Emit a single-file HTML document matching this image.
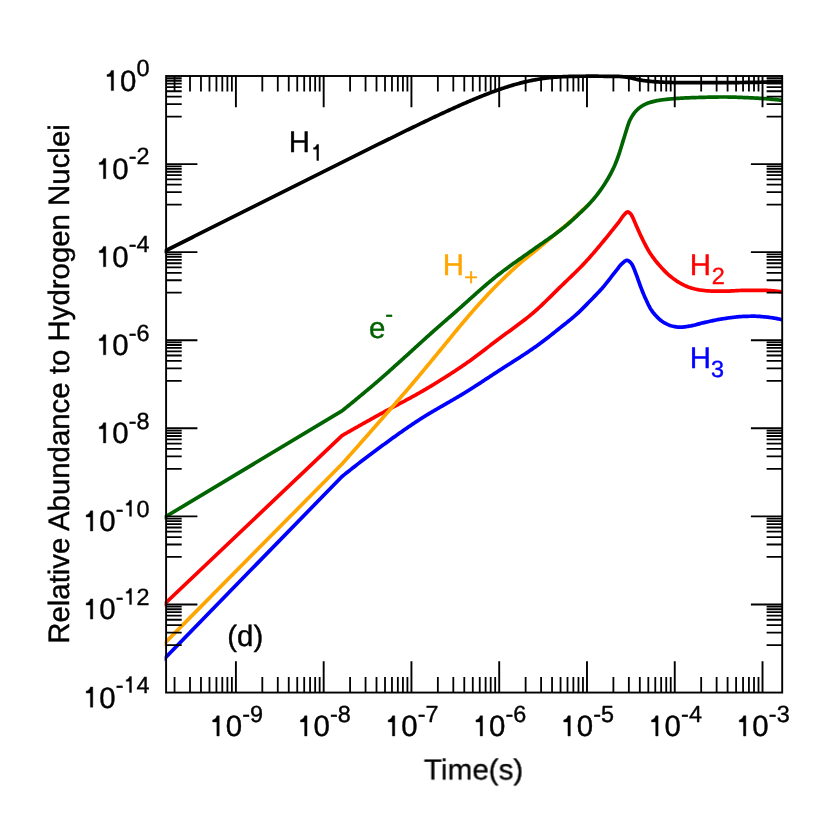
<!DOCTYPE html>
<html><head><meta charset="utf-8"><title>chart</title>
<style>html,body{margin:0;padding:0;background:#fff}body{width:830px;height:830px;overflow:hidden}</style>
</head><body>
<svg width="830" height="830" viewBox="0 0 830 830" style="display:block;will-change:transform">
<rect x="0" y="0" width="830" height="830" fill="#fff"/>
<defs><clipPath id="c"><rect x="164.6" y="73.0" width="617.6" height="619.56"/></clipPath></defs>
<g clip-path="url(#c)" fill="none" stroke-width="3.7" stroke-linejoin="round" stroke-linecap="butt">
<path d="M163.0,660.10 L342.0,476.50 L343.0,475.70 L344.0,474.90 L345.0,474.10 L346.0,473.31 L347.0,472.51 L348.0,471.72 L349.0,470.93 L350.0,470.14 L351.0,469.35 L352.0,468.57 L353.0,467.78 L354.0,467.00 L355.0,466.22 L356.0,465.44 L357.0,464.66 L358.0,463.89 L359.0,463.11 L360.0,462.34 L361.0,461.57 L362.0,460.80 L363.0,460.04 L364.0,459.27 L365.0,458.51 L366.0,457.75 L367.0,456.99 L368.0,456.24 L369.0,455.48 L370.0,454.73 L371.0,453.98 L372.0,453.23 L373.0,452.48 L374.0,451.73 L375.0,450.99 L376.0,450.25 L377.0,449.51 L378.0,448.77 L379.0,448.03 L380.0,447.30 L381.0,446.57 L382.0,445.84 L383.0,445.10 L384.0,444.37 L385.0,443.64 L386.0,442.91 L387.0,442.19 L388.0,441.46 L389.0,440.73 L390.0,440.01 L391.0,439.29 L392.0,438.56 L393.0,437.84 L394.0,437.13 L395.0,436.41 L396.0,435.69 L397.0,434.98 L398.0,434.27 L399.0,433.56 L400.0,432.85 L401.0,432.15 L402.0,431.45 L403.0,430.75 L404.0,430.05 L405.0,429.35 L406.0,428.66 L407.0,427.97 L408.0,427.29 L409.0,426.60 L410.0,425.92 L411.0,425.24 L412.0,424.57 L413.0,423.90 L414.0,423.23 L415.0,422.57 L416.0,421.91 L417.0,421.25 L418.0,420.60 L419.0,419.95 L420.0,419.30 L421.0,418.66 L422.0,418.02 L423.0,417.39 L424.0,416.77 L425.0,416.15 L426.0,415.53 L427.0,414.92 L428.0,414.31 L429.0,413.71 L430.0,413.10 L431.0,412.51 L432.0,411.91 L433.0,411.32 L434.0,410.73 L435.0,410.15 L436.0,409.56 L437.0,408.98 L438.0,408.40 L439.0,407.82 L440.0,407.24 L441.0,406.67 L442.0,406.09 L443.0,405.52 L444.0,404.94 L445.0,404.37 L446.0,403.80 L447.0,403.22 L448.0,402.65 L449.0,402.07 L450.0,401.50 L451.0,400.92 L452.0,400.34 L453.0,399.76 L454.0,399.18 L455.0,398.60 L456.0,398.02 L457.0,397.43 L458.0,396.84 L459.0,396.25 L460.0,395.65 L461.0,395.05 L462.0,394.45 L463.0,393.84 L464.0,393.23 L465.0,392.62 L466.0,392.00 L467.0,391.38 L468.0,390.75 L469.0,390.13 L470.0,389.50 L471.0,388.86 L472.0,388.23 L473.0,387.59 L474.0,386.95 L475.0,386.31 L476.0,385.67 L477.0,385.02 L478.0,384.37 L479.0,383.73 L480.0,383.08 L481.0,382.43 L482.0,381.78 L483.0,381.12 L484.0,380.47 L485.0,379.81 L486.0,379.16 L487.0,378.50 L488.0,377.85 L489.0,377.19 L490.0,376.54 L491.0,375.88 L492.0,375.23 L493.0,374.57 L494.0,373.91 L495.0,373.26 L496.0,372.61 L497.0,371.95 L498.0,371.30 L499.0,370.65 L500.0,370.00 L501.0,369.35 L502.0,368.71 L503.0,368.07 L504.0,367.43 L505.0,366.79 L506.0,366.15 L507.0,365.51 L508.0,364.87 L509.0,364.23 L510.0,363.60 L511.0,362.96 L512.0,362.32 L513.0,361.68 L514.0,361.04 L515.0,360.40 L516.0,359.76 L517.0,359.12 L518.0,358.48 L519.0,357.84 L520.0,357.19 L521.0,356.54 L522.0,355.89 L523.0,355.24 L524.0,354.58 L525.0,353.92 L526.0,353.26 L527.0,352.59 L528.0,351.93 L529.0,351.25 L530.0,350.58 L531.0,349.90 L532.0,349.21 L533.0,348.52 L534.0,347.83 L535.0,347.13 L536.0,346.42 L537.0,345.72 L538.0,345.00 L539.0,344.28 L540.0,343.55 L541.0,342.81 L542.0,342.06 L543.0,341.31 L544.0,340.55 L545.0,339.78 L546.0,339.01 L547.0,338.23 L548.0,337.45 L549.0,336.67 L550.0,335.88 L551.0,335.09 L552.0,334.29 L553.0,333.50 L554.0,332.70 L555.0,331.90 L556.0,331.10 L557.0,330.30 L558.0,329.50 L559.0,328.70 L560.0,327.91 L561.0,327.11 L562.0,326.32 L563.0,325.53 L564.0,324.73 L565.0,323.94 L566.0,323.14 L567.0,322.34 L568.0,321.53 L569.0,320.72 L570.0,319.90 L571.0,319.07 L572.0,318.24 L573.0,317.39 L574.0,316.54 L575.0,315.67 L576.0,314.79 L577.0,313.90 L578.0,313.00 L579.0,312.08 L580.0,311.13 L581.0,310.16 L582.0,309.18 L583.0,308.18 L584.0,307.17 L585.0,306.15 L586.0,305.13 L587.0,304.10 L588.0,303.06 L589.0,302.03 L590.0,301.00 L591.0,299.98 L592.0,298.95 L593.0,297.93 L594.0,296.91 L595.0,295.89 L596.0,294.86 L597.0,293.82 L598.0,292.77 L599.0,291.71 L600.0,290.63 L601.0,289.54 L602.0,288.42 L603.0,287.29 L604.0,286.12 L605.0,284.93 L606.0,283.69 L607.0,282.44 L608.0,281.16 L609.0,279.87 L610.0,278.56 L611.0,277.25 L612.0,275.94 L613.0,274.64 L614.0,273.35 L615.0,272.07 L616.0,270.82 L617.0,269.57 L618.0,268.27 L619.0,266.95 L620.0,265.69 L621.0,264.55 L622.0,263.60 L623.0,262.73 L624.0,261.86 L625.0,261.09 L626.0,260.54 L627.0,260.30 L628.0,260.50 L629.0,261.11 L630.0,261.99 L631.0,263.00 L632.0,264.38 L633.0,266.34 L634.0,268.70 L635.0,271.28 L636.0,273.89 L637.0,276.46 L638.0,279.30 L639.0,282.22 L640.0,285.00 L641.0,287.63 L642.0,290.21 L643.0,292.72 L644.0,295.13 L645.0,297.40 L646.0,299.60 L647.0,301.79 L648.0,303.92 L649.0,305.96 L650.0,307.84 L651.0,309.54 L652.0,311.00 L653.0,312.30 L654.0,313.55 L655.0,314.73 L656.0,315.86 L657.0,316.93 L658.0,317.93 L659.0,318.87 L660.0,319.75 L661.0,320.56 L662.0,321.31 L663.0,321.99 L664.0,322.60 L665.0,323.16 L666.0,323.70 L667.0,324.19 L668.0,324.65 L669.0,325.07 L670.0,325.44 L671.0,325.75 L672.0,326.00 L673.0,326.22 L674.0,326.44 L675.0,326.64 L676.0,326.82 L677.0,326.98 L678.0,327.10 L679.0,327.17 L680.0,327.20 L681.0,327.18 L682.0,327.13 L683.0,327.04 L684.0,326.93 L685.0,326.80 L686.0,326.65 L687.0,326.49 L688.0,326.33 L689.0,326.16 L690.0,326.00 L691.0,325.83 L692.0,325.63 L693.0,325.42 L694.0,325.18 L695.0,324.94 L696.0,324.68 L697.0,324.41 L698.0,324.14 L699.0,323.87 L700.0,323.60 L701.0,323.33 L702.0,323.07 L703.0,322.83 L704.0,322.60 L705.0,322.38 L706.0,322.16 L707.0,321.93 L708.0,321.71 L709.0,321.49 L710.0,321.27 L711.0,321.05 L712.0,320.83 L713.0,320.61 L714.0,320.40 L715.0,320.20 L716.0,319.99 L717.0,319.80 L718.0,319.60 L719.0,319.42 L720.0,319.24 L721.0,319.07 L722.0,318.90 L723.0,318.75 L724.0,318.60 L725.0,318.46 L726.0,318.31 L727.0,318.17 L728.0,318.03 L729.0,317.89 L730.0,317.75 L731.0,317.61 L732.0,317.48 L733.0,317.35 L734.0,317.22 L735.0,317.10 L736.0,316.99 L737.0,316.89 L738.0,316.79 L739.0,316.70 L740.0,316.62 L741.0,316.55 L742.0,316.49 L743.0,316.44 L744.0,316.40 L745.0,316.37 L746.0,316.34 L747.0,316.31 L748.0,316.28 L749.0,316.26 L750.0,316.24 L751.0,316.22 L752.0,316.21 L753.0,316.20 L754.0,316.20 L755.0,316.21 L756.0,316.24 L757.0,316.28 L758.0,316.33 L759.0,316.40 L760.0,316.47 L761.0,316.55 L762.0,316.63 L763.0,316.72 L764.0,316.80 L765.0,316.89 L766.0,316.99 L767.0,317.09 L768.0,317.21 L769.0,317.33 L770.0,317.47 L771.0,317.61 L772.0,317.76 L773.0,317.92 L774.0,318.08 L775.0,318.26 L776.0,318.44 L777.0,318.63 L778.0,318.82 L779.0,319.03 L780.0,319.24 L781.0,319.45 L782.0,319.67 L783.0,319.90" stroke="#0000ff"/>
<path d="M163.0,605.50 L342.0,435.60 L343.0,435.03 L344.0,434.45 L345.0,433.88 L346.0,433.31 L347.0,432.74 L348.0,432.17 L349.0,431.60 L350.0,431.03 L351.0,430.46 L352.0,429.89 L353.0,429.33 L354.0,428.76 L355.0,428.19 L356.0,427.63 L357.0,427.06 L358.0,426.49 L359.0,425.93 L360.0,425.37 L361.0,424.80 L362.0,424.24 L363.0,423.68 L364.0,423.12 L365.0,422.55 L366.0,421.99 L367.0,421.43 L368.0,420.87 L369.0,420.31 L370.0,419.76 L371.0,419.20 L372.0,418.64 L373.0,418.08 L374.0,417.53 L375.0,416.97 L376.0,416.42 L377.0,415.86 L378.0,415.31 L379.0,414.75 L380.0,414.20 L381.0,413.65 L382.0,413.10 L383.0,412.55 L384.0,412.01 L385.0,411.46 L386.0,410.92 L387.0,410.38 L388.0,409.84 L389.0,409.31 L390.0,408.77 L391.0,408.24 L392.0,407.70 L393.0,407.17 L394.0,406.63 L395.0,406.10 L396.0,405.57 L397.0,405.04 L398.0,404.50 L399.0,403.97 L400.0,403.44 L401.0,402.91 L402.0,402.37 L403.0,401.84 L404.0,401.30 L405.0,400.77 L406.0,400.23 L407.0,399.69 L408.0,399.15 L409.0,398.61 L410.0,398.06 L411.0,397.52 L412.0,396.97 L413.0,396.42 L414.0,395.87 L415.0,395.31 L416.0,394.76 L417.0,394.20 L418.0,393.63 L419.0,393.07 L420.0,392.50 L421.0,391.93 L422.0,391.35 L423.0,390.78 L424.0,390.19 L425.0,389.61 L426.0,389.03 L427.0,388.44 L428.0,387.84 L429.0,387.25 L430.0,386.65 L431.0,386.05 L432.0,385.45 L433.0,384.84 L434.0,384.23 L435.0,383.62 L436.0,383.00 L437.0,382.38 L438.0,381.76 L439.0,381.14 L440.0,380.52 L441.0,379.89 L442.0,379.27 L443.0,378.64 L444.0,378.01 L445.0,377.38 L446.0,376.75 L447.0,376.11 L448.0,375.47 L449.0,374.83 L450.0,374.19 L451.0,373.54 L452.0,372.90 L453.0,372.24 L454.0,371.59 L455.0,370.93 L456.0,370.28 L457.0,369.61 L458.0,368.95 L459.0,368.28 L460.0,367.61 L461.0,366.93 L462.0,366.25 L463.0,365.57 L464.0,364.88 L465.0,364.19 L466.0,363.50 L467.0,362.80 L468.0,362.10 L469.0,361.38 L470.0,360.67 L471.0,359.94 L472.0,359.22 L473.0,358.49 L474.0,357.75 L475.0,357.01 L476.0,356.26 L477.0,355.52 L478.0,354.76 L479.0,354.01 L480.0,353.25 L481.0,352.49 L482.0,351.73 L483.0,350.97 L484.0,350.20 L485.0,349.44 L486.0,348.67 L487.0,347.90 L488.0,347.13 L489.0,346.36 L490.0,345.60 L491.0,344.83 L492.0,344.06 L493.0,343.30 L494.0,342.53 L495.0,341.77 L496.0,341.01 L497.0,340.25 L498.0,339.50 L499.0,338.75 L500.0,338.00 L501.0,337.26 L502.0,336.52 L503.0,335.78 L504.0,335.05 L505.0,334.32 L506.0,333.59 L507.0,332.86 L508.0,332.13 L509.0,331.41 L510.0,330.68 L511.0,329.95 L512.0,329.23 L513.0,328.50 L514.0,327.77 L515.0,327.04 L516.0,326.30 L517.0,325.56 L518.0,324.82 L519.0,324.08 L520.0,323.33 L521.0,322.57 L522.0,321.81 L523.0,321.05 L524.0,320.28 L525.0,319.50 L526.0,318.72 L527.0,317.92 L528.0,317.13 L529.0,316.32 L530.0,315.50 L531.0,314.68 L532.0,313.84 L533.0,313.00 L534.0,312.14 L535.0,311.27 L536.0,310.39 L537.0,309.50 L538.0,308.59 L539.0,307.67 L540.0,306.74 L541.0,305.80 L542.0,304.86 L543.0,303.90 L544.0,302.94 L545.0,301.98 L546.0,301.00 L547.0,300.02 L548.0,299.04 L549.0,298.06 L550.0,297.07 L551.0,296.08 L552.0,295.09 L553.0,294.09 L554.0,293.10 L555.0,292.11 L556.0,291.12 L557.0,290.14 L558.0,289.15 L559.0,288.17 L560.0,287.20 L561.0,286.23 L562.0,285.26 L563.0,284.30 L564.0,283.34 L565.0,282.38 L566.0,281.42 L567.0,280.46 L568.0,279.50 L569.0,278.54 L570.0,277.58 L571.0,276.62 L572.0,275.65 L573.0,274.68 L574.0,273.70 L575.0,272.73 L576.0,271.74 L577.0,270.75 L578.0,269.75 L579.0,268.75 L580.0,267.74 L581.0,266.72 L582.0,265.69 L583.0,264.65 L584.0,263.60 L585.0,262.53 L586.0,261.46 L587.0,260.37 L588.0,259.27 L589.0,258.16 L590.0,257.04 L591.0,255.90 L592.0,254.75 L593.0,253.60 L594.0,252.43 L595.0,251.26 L596.0,250.08 L597.0,248.90 L598.0,247.71 L599.0,246.51 L600.0,245.31 L601.0,244.11 L602.0,242.91 L603.0,241.70 L604.0,240.50 L605.0,239.29 L606.0,238.08 L607.0,236.86 L608.0,235.64 L609.0,234.41 L610.0,233.18 L611.0,231.94 L612.0,230.69 L613.0,229.44 L614.0,228.18 L615.0,226.92 L616.0,225.64 L617.0,224.36 L618.0,223.08 L619.0,221.78 L620.0,220.46 L621.0,219.04 L622.0,217.57 L623.0,216.16 L624.0,214.92 L625.0,213.89 L626.0,212.86 L627.0,212.09 L628.0,211.93 L629.0,212.39 L630.0,213.25 L631.0,214.30 L632.0,215.91 L633.0,218.00 L634.0,220.22 L635.0,222.62 L636.0,225.00 L637.0,227.30 L638.0,229.60 L639.0,231.85 L640.0,234.00 L641.0,236.08 L642.0,238.15 L643.0,240.20 L644.0,242.21 L645.0,244.18 L646.0,246.09 L647.0,247.94 L648.0,249.72 L649.0,251.41 L650.0,253.00 L651.0,254.51 L652.0,255.97 L653.0,257.37 L654.0,258.71 L655.0,260.02 L656.0,261.28 L657.0,262.50 L658.0,263.70 L659.0,264.86 L660.0,266.00 L661.0,267.12 L662.0,268.22 L663.0,269.30 L664.0,270.36 L665.0,271.38 L666.0,272.38 L667.0,273.34 L668.0,274.27 L669.0,275.15 L670.0,276.00 L671.0,276.81 L672.0,277.60 L673.0,278.37 L674.0,279.12 L675.0,279.84 L676.0,280.53 L677.0,281.19 L678.0,281.82 L679.0,282.43 L680.0,283.00 L681.0,283.55 L682.0,284.09 L683.0,284.61 L684.0,285.12 L685.0,285.60 L686.0,286.06 L687.0,286.49 L688.0,286.90 L689.0,287.27 L690.0,287.60 L691.0,287.91 L692.0,288.21 L693.0,288.49 L694.0,288.76 L695.0,289.02 L696.0,289.25 L697.0,289.47 L698.0,289.67 L699.0,289.85 L700.0,290.00 L701.0,290.14 L702.0,290.28 L703.0,290.41 L704.0,290.53 L705.0,290.64 L706.0,290.75 L707.0,290.83 L708.0,290.91 L709.0,290.96 L710.0,291.00 L711.0,291.03 L712.0,291.05 L713.0,291.07 L714.0,291.09 L715.0,291.11 L716.0,291.13 L717.0,291.15 L718.0,291.16 L719.0,291.17 L720.0,291.18 L721.0,291.19 L722.0,291.20 L723.0,291.20 L724.0,291.20 L725.0,291.19 L726.0,291.18 L727.0,291.15 L728.0,291.12 L729.0,291.07 L730.0,291.03 L731.0,290.97 L732.0,290.92 L733.0,290.86 L734.0,290.80 L735.0,290.74 L736.0,290.68 L737.0,290.63 L738.0,290.57 L739.0,290.52 L740.0,290.48 L741.0,290.45 L742.0,290.42 L743.0,290.41 L744.0,290.40 L745.0,290.40 L746.0,290.40 L747.0,290.40 L748.0,290.40 L749.0,290.40 L750.0,290.40 L751.0,290.40 L752.0,290.40 L753.0,290.40 L754.0,290.40 L755.0,290.40 L756.0,290.40 L757.0,290.40 L758.0,290.40 L759.0,290.40 L760.0,290.40 L761.0,290.40 L762.0,290.40 L763.0,290.40 L764.0,290.40 L765.0,290.41 L766.0,290.43 L767.0,290.46 L768.0,290.50 L769.0,290.55 L770.0,290.62 L771.0,290.69 L772.0,290.77 L773.0,290.86 L774.0,290.95 L775.0,291.05 L776.0,291.16 L777.0,291.27 L778.0,291.39 L779.0,291.50 L780.0,291.63 L781.0,291.75 L782.0,291.87 L783.0,292.00" stroke="#ff0000"/>
<path d="M163.0,645.00 L342.0,464.00 L343.0,462.88 L344.0,461.76 L345.0,460.63 L346.0,459.51 L347.0,458.39 L348.0,457.26 L349.0,456.14 L350.0,455.01 L351.0,453.89 L352.0,452.76 L353.0,451.63 L354.0,450.51 L355.0,449.38 L356.0,448.25 L357.0,447.12 L358.0,445.99 L359.0,444.86 L360.0,443.73 L361.0,442.60 L362.0,441.47 L363.0,440.33 L364.0,439.20 L365.0,438.07 L366.0,436.93 L367.0,435.80 L368.0,434.66 L369.0,433.53 L370.0,432.39 L371.0,431.25 L372.0,430.12 L373.0,428.98 L374.0,427.84 L375.0,426.70 L376.0,425.56 L377.0,424.42 L378.0,423.28 L379.0,422.14 L380.0,421.00 L381.0,419.86 L382.0,418.72 L383.0,417.58 L384.0,416.44 L385.0,415.29 L386.0,414.15 L387.0,413.01 L388.0,411.87 L389.0,410.73 L390.0,409.59 L391.0,408.45 L392.0,407.30 L393.0,406.16 L394.0,405.01 L395.0,403.87 L396.0,402.72 L397.0,401.58 L398.0,400.43 L399.0,399.28 L400.0,398.13 L401.0,396.97 L402.0,395.82 L403.0,394.66 L404.0,393.51 L405.0,392.35 L406.0,391.19 L407.0,390.02 L408.0,388.86 L409.0,387.69 L410.0,386.52 L411.0,385.35 L412.0,384.18 L413.0,383.00 L414.0,381.82 L415.0,380.64 L416.0,379.45 L417.0,378.26 L418.0,377.07 L419.0,375.88 L420.0,374.68 L421.0,373.48 L422.0,372.28 L423.0,371.07 L424.0,369.87 L425.0,368.66 L426.0,367.45 L427.0,366.25 L428.0,365.04 L429.0,363.82 L430.0,362.61 L431.0,361.40 L432.0,360.19 L433.0,358.98 L434.0,357.76 L435.0,356.55 L436.0,355.34 L437.0,354.13 L438.0,352.92 L439.0,351.71 L440.0,350.50 L441.0,349.29 L442.0,348.08 L443.0,346.86 L444.0,345.64 L445.0,344.42 L446.0,343.20 L447.0,341.98 L448.0,340.76 L449.0,339.53 L450.0,338.31 L451.0,337.08 L452.0,335.86 L453.0,334.64 L454.0,333.42 L455.0,332.20 L456.0,330.98 L457.0,329.76 L458.0,328.55 L459.0,327.34 L460.0,326.14 L461.0,324.93 L462.0,323.74 L463.0,322.54 L464.0,321.36 L465.0,320.18 L466.0,319.00 L467.0,317.83 L468.0,316.66 L469.0,315.49 L470.0,314.33 L471.0,313.17 L472.0,312.02 L473.0,310.87 L474.0,309.73 L475.0,308.59 L476.0,307.46 L477.0,306.33 L478.0,305.21 L479.0,304.10 L480.0,303.00 L481.0,301.90 L482.0,300.81 L483.0,299.72 L484.0,298.63 L485.0,297.55 L486.0,296.47 L487.0,295.40 L488.0,294.33 L489.0,293.27 L490.0,292.21 L491.0,291.16 L492.0,290.12 L493.0,289.08 L494.0,288.05 L495.0,287.03 L496.0,286.01 L497.0,285.00 L498.0,284.00 L499.0,283.01 L500.0,282.01 L501.0,281.03 L502.0,280.04 L503.0,279.07 L504.0,278.09 L505.0,277.12 L506.0,276.16 L507.0,275.20 L508.0,274.25 L509.0,273.30 L510.0,272.36 L511.0,271.42 L512.0,270.49 L513.0,269.57 L514.0,268.65 L515.0,267.74 L516.0,266.84 L517.0,265.94 L518.0,265.05 L519.0,264.17 L520.0,263.30 L521.0,262.44 L522.0,261.59 L523.0,260.75 L524.0,259.93 L525.0,259.11 L526.0,258.30 L527.0,257.50 L528.0,256.70 L529.0,255.91 L530.0,255.12 L531.0,254.33 L532.0,253.54 L533.0,252.75 L534.0,251.95 L535.0,251.15 L536.0,250.34 L537.0,249.52 L538.0,248.70 L539.0,247.87 L540.0,247.03 L541.0,246.19 L542.0,245.34 L543.0,244.49 L544.0,243.64 L545.0,242.78 L546.0,241.93 L547.0,241.07 L548.0,240.21 L549.0,239.35 L550.0,238.49 L551.0,237.63 L552.0,236.78 L553.0,235.92 L554.0,235.07 L555.0,234.22 L556.0,233.38 L557.0,232.54 L558.0,231.70 L559.0,230.87 L560.0,230.06 L561.0,229.25 L562.0,228.44 L563.0,227.64 L564.0,226.83 L565.0,226.02 L566.0,225.19 L567.0,224.35 L568.0,223.50 L569.0,222.63 L570.0,221.74 L571.0,220.84 L572.0,219.94 L573.0,219.02 L574.0,218.10 L575.0,217.17 L576.0,216.23 L577.0,215.30 L578.0,214.36 L579.0,213.43 L580.0,212.50 L581.0,211.57 L582.0,210.64 L583.0,209.70 L584.0,208.77 L585.0,207.83 L586.0,206.89 L587.0,205.94 L588.0,205.00" stroke="#ffa500"/>
<path d="M163.0,518.30 L342.0,410.90 L343.0,410.10 L344.0,409.29 L345.0,408.48 L346.0,407.68 L347.0,406.87 L348.0,406.05 L349.0,405.24 L350.0,404.43 L351.0,403.61 L352.0,402.79 L353.0,401.97 L354.0,401.15 L355.0,400.33 L356.0,399.51 L357.0,398.68 L358.0,397.86 L359.0,397.03 L360.0,396.20 L361.0,395.37 L362.0,394.54 L363.0,393.71 L364.0,392.87 L365.0,392.04 L366.0,391.20 L367.0,390.36 L368.0,389.52 L369.0,388.68 L370.0,387.84 L371.0,387.00 L372.0,386.15 L373.0,385.30 L374.0,384.45 L375.0,383.60 L376.0,382.75 L377.0,381.89 L378.0,381.03 L379.0,380.17 L380.0,379.30 L381.0,378.43 L382.0,377.56 L383.0,376.68 L384.0,375.80 L385.0,374.92 L386.0,374.04 L387.0,373.15 L388.0,372.26 L389.0,371.37 L390.0,370.48 L391.0,369.58 L392.0,368.69 L393.0,367.79 L394.0,366.89 L395.0,365.99 L396.0,365.09 L397.0,364.19 L398.0,363.30 L399.0,362.40 L400.0,361.50 L401.0,360.60 L402.0,359.70 L403.0,358.80 L404.0,357.89 L405.0,356.99 L406.0,356.08 L407.0,355.17 L408.0,354.26 L409.0,353.35 L410.0,352.44 L411.0,351.53 L412.0,350.62 L413.0,349.71 L414.0,348.79 L415.0,347.88 L416.0,346.97 L417.0,346.05 L418.0,345.14 L419.0,344.23 L420.0,343.32 L421.0,342.41 L422.0,341.50 L423.0,340.59 L424.0,339.69 L425.0,338.78 L426.0,337.88 L427.0,336.98 L428.0,336.08 L429.0,335.18 L430.0,334.28 L431.0,333.39 L432.0,332.50 L433.0,331.61 L434.0,330.73 L435.0,329.84 L436.0,328.96 L437.0,328.08 L438.0,327.21 L439.0,326.33 L440.0,325.45 L441.0,324.58 L442.0,323.71 L443.0,322.84 L444.0,321.97 L445.0,321.10 L446.0,320.23 L447.0,319.36 L448.0,318.48 L449.0,317.61 L450.0,316.74 L451.0,315.87 L452.0,315.00 L453.0,314.13 L454.0,313.25 L455.0,312.37 L456.0,311.49 L457.0,310.60 L458.0,309.71 L459.0,308.82 L460.0,307.93 L461.0,307.04 L462.0,306.14 L463.0,305.25 L464.0,304.35 L465.0,303.46 L466.0,302.56 L467.0,301.66 L468.0,300.76 L469.0,299.87 L470.0,298.97 L471.0,298.07 L472.0,297.18 L473.0,296.29 L474.0,295.39 L475.0,294.50 L476.0,293.61 L477.0,292.73 L478.0,291.84 L479.0,290.96 L480.0,290.08 L481.0,289.21 L482.0,288.33 L483.0,287.46 L484.0,286.60 L485.0,285.74 L486.0,284.88 L487.0,284.03 L488.0,283.18 L489.0,282.34 L490.0,281.50 L491.0,280.66 L492.0,279.84 L493.0,279.01 L494.0,278.20 L495.0,277.39 L496.0,276.59 L497.0,275.79 L498.0,275.00 L499.0,274.22 L500.0,273.44 L501.0,272.67 L502.0,271.91 L503.0,271.15 L504.0,270.39 L505.0,269.65 L506.0,268.90 L507.0,268.16 L508.0,267.43 L509.0,266.70 L510.0,265.97 L511.0,265.25 L512.0,264.53 L513.0,263.81 L514.0,263.10 L515.0,262.39 L516.0,261.68 L517.0,260.97 L518.0,260.27 L519.0,259.56 L520.0,258.86 L521.0,258.16 L522.0,257.46 L523.0,256.76 L524.0,256.06 L525.0,255.35 L526.0,254.65 L527.0,253.95 L528.0,253.25 L529.0,252.55 L530.0,251.84 L531.0,251.13 L532.0,250.42 L533.0,249.71 L534.0,249.00 L535.0,248.29 L536.0,247.58 L537.0,246.88 L538.0,246.18 L539.0,245.48 L540.0,244.78 L541.0,244.09 L542.0,243.40 L543.0,242.71 L544.0,242.01 L545.0,241.32 L546.0,240.63 L547.0,239.93 L548.0,239.24 L549.0,238.54 L550.0,237.83 L551.0,237.12 L552.0,236.41 L553.0,235.69 L554.0,234.97 L555.0,234.24 L556.0,233.50 L557.0,232.75 L558.0,232.00 L559.0,231.24 L560.0,230.47 L561.0,229.70 L562.0,228.91 L563.0,228.12 L564.0,227.32 L565.0,226.50 L566.0,225.68 L567.0,224.85 L568.0,224.00 L569.0,223.14 L570.0,222.26 L571.0,221.38 L572.0,220.47 L573.0,219.56 L574.0,218.64 L575.0,217.71 L576.0,216.78 L577.0,215.84 L578.0,214.89 L579.0,213.95 L580.0,213.00 L581.0,212.06 L582.0,211.11 L583.0,210.17 L584.0,209.21 L585.0,208.24 L586.0,207.26 L587.0,206.24 L588.0,205.20 L589.0,204.13 L590.0,203.05 L591.0,201.94 L592.0,200.82 L593.0,199.67 L594.0,198.49 L595.0,197.29 L596.0,196.06 L597.0,194.80 L598.0,193.50 L599.0,192.17 L600.0,190.80 L601.0,189.40 L602.0,187.96 L603.0,186.48 L604.0,184.97 L605.0,183.41 L606.0,181.82 L607.0,180.18 L608.0,178.50 L609.0,176.77 L610.0,174.98 L611.0,173.12 L612.0,171.17 L613.0,169.14 L614.0,167.00 L615.0,164.73 L616.0,162.29 L617.0,159.71 L618.0,157.00 L619.0,154.10 L620.0,150.98 L621.0,147.73 L622.0,144.43 L623.0,141.16 L624.0,138.00 L625.0,134.80 L626.0,131.48 L627.0,128.19 L628.0,125.08 L629.0,122.29 L630.0,120.00 L631.0,118.09 L632.0,116.37 L633.0,114.80 L634.0,113.40 L635.0,112.13 L636.0,111.00 L637.0,109.97 L638.0,109.01 L639.0,108.14 L640.0,107.35 L641.0,106.63 L642.0,106.00 L643.0,105.42 L644.0,104.88 L645.0,104.37 L646.0,103.89 L647.0,103.46 L648.0,103.06 L649.0,102.71 L650.0,102.40 L651.0,102.12 L652.0,101.85 L653.0,101.59 L654.0,101.35 L655.0,101.11 L656.0,100.89 L657.0,100.68 L658.0,100.49 L659.0,100.31 L660.0,100.14 L661.0,99.98 L662.0,99.84 L663.0,99.71 L664.0,99.60 L665.0,99.49 L666.0,99.39 L667.0,99.29 L668.0,99.20 L669.0,99.10 L670.0,99.01 L671.0,98.92 L672.0,98.84 L673.0,98.76 L674.0,98.68 L675.0,98.60 L676.0,98.52 L677.0,98.45 L678.0,98.38 L679.0,98.32 L680.0,98.25 L681.0,98.19 L682.0,98.13 L683.0,98.07 L684.0,98.02 L685.0,97.97 L686.0,97.92 L687.0,97.87 L688.0,97.82 L689.0,97.78 L690.0,97.74 L691.0,97.70 L692.0,97.67 L693.0,97.63 L694.0,97.60 L695.0,97.57 L696.0,97.54 L697.0,97.51 L698.0,97.48 L699.0,97.45 L700.0,97.42 L701.0,97.39 L702.0,97.36 L703.0,97.33 L704.0,97.31 L705.0,97.28 L706.0,97.26 L707.0,97.23 L708.0,97.21 L709.0,97.18 L710.0,97.16 L711.0,97.14 L712.0,97.12 L713.0,97.10 L714.0,97.09 L715.0,97.07 L716.0,97.06 L717.0,97.04 L718.0,97.03 L719.0,97.02 L720.0,97.01 L721.0,97.01 L722.0,97.00 L723.0,97.00 L724.0,97.00 L725.0,97.00 L726.0,97.01 L727.0,97.02 L728.0,97.03 L729.0,97.04 L730.0,97.06 L731.0,97.08 L732.0,97.10 L733.0,97.13 L734.0,97.15 L735.0,97.18 L736.0,97.21 L737.0,97.25 L738.0,97.28 L739.0,97.32 L740.0,97.36 L741.0,97.40 L742.0,97.44 L743.0,97.49 L744.0,97.53 L745.0,97.57 L746.0,97.62 L747.0,97.67 L748.0,97.71 L749.0,97.76 L750.0,97.81 L751.0,97.86 L752.0,97.90 L753.0,97.95 L754.0,98.00 L755.0,98.05 L756.0,98.10 L757.0,98.16 L758.0,98.22 L759.0,98.28 L760.0,98.34 L761.0,98.41 L762.0,98.48 L763.0,98.55 L764.0,98.62 L765.0,98.70 L766.0,98.78 L767.0,98.86 L768.0,98.94 L769.0,99.03 L770.0,99.12 L771.0,99.20 L772.0,99.30 L773.0,99.39 L774.0,99.48 L775.0,99.58 L776.0,99.68 L777.0,99.78 L778.0,99.88 L779.0,99.98 L780.0,100.08 L781.0,100.19 L782.0,100.29 L783.0,100.40" stroke="#006400"/>
<path d="M163.0,252.03 L164.0,251.53 L165.0,251.03 L166.0,250.53 L167.0,250.02 L168.0,249.52 L169.0,249.02 L170.0,248.52 L171.0,248.02 L172.0,247.51 L173.0,247.01 L174.0,246.51 L175.0,246.01 L176.0,245.51 L177.0,245.01 L178.0,244.50 L179.0,244.00 L180.0,243.50 L181.0,243.00 L182.0,242.50 L183.0,241.99 L184.0,241.49 L185.0,240.99 L186.0,240.49 L187.0,239.99 L188.0,239.48 L189.0,238.98 L190.0,238.48 L191.0,237.98 L192.0,237.48 L193.0,236.98 L194.0,236.47 L195.0,235.97 L196.0,235.47 L197.0,234.97 L198.0,234.47 L199.0,233.97 L200.0,233.46 L201.0,232.96 L202.0,232.46 L203.0,231.96 L204.0,231.46 L205.0,230.95 L206.0,230.45 L207.0,229.95 L208.0,229.45 L209.0,228.95 L210.0,228.45 L211.0,227.95 L212.0,227.44 L213.0,226.94 L214.0,226.44 L215.0,225.94 L216.0,225.44 L217.0,224.94 L218.0,224.43 L219.0,223.93 L220.0,223.43 L221.0,222.93 L222.0,222.43 L223.0,221.93 L224.0,221.42 L225.0,220.92 L226.0,220.42 L227.0,219.92 L228.0,219.42 L229.0,218.92 L230.0,218.42 L231.0,217.91 L232.0,217.41 L233.0,216.91 L234.0,216.41 L235.0,215.91 L236.0,215.41 L237.0,214.91 L238.0,214.40 L239.0,213.90 L240.0,213.40 L241.0,212.90 L242.0,212.40 L243.0,211.90 L244.0,211.40 L245.0,210.90 L246.0,210.39 L247.0,209.89 L248.0,209.39 L249.0,208.89 L250.0,208.39 L251.0,207.89 L252.0,207.38 L253.0,206.88 L254.0,206.38 L255.0,205.88 L256.0,205.38 L257.0,204.88 L258.0,204.37 L259.0,203.87 L260.0,203.37 L261.0,202.87 L262.0,202.37 L263.0,201.86 L264.0,201.36 L265.0,200.86 L266.0,200.36 L267.0,199.86 L268.0,199.35 L269.0,198.85 L270.0,198.35 L271.0,197.85 L272.0,197.35 L273.0,196.84 L274.0,196.34 L275.0,195.84 L276.0,195.34 L277.0,194.84 L278.0,194.33 L279.0,193.83 L280.0,193.33 L281.0,192.83 L282.0,192.33 L283.0,191.83 L284.0,191.32 L285.0,190.82 L286.0,190.32 L287.0,189.82 L288.0,189.32 L289.0,188.82 L290.0,188.31 L291.0,187.81 L292.0,187.31 L293.0,186.81 L294.0,186.31 L295.0,185.81 L296.0,185.31 L297.0,184.80 L298.0,184.30 L299.0,183.80 L300.0,183.30 L301.0,182.80 L302.0,182.30 L303.0,181.80 L304.0,181.30 L305.0,180.80 L306.0,180.30 L307.0,179.80 L308.0,179.30 L309.0,178.80 L310.0,178.30 L311.0,177.80 L312.0,177.30 L313.0,176.80 L314.0,176.30 L315.0,175.80 L316.0,175.30 L317.0,174.80 L318.0,174.30 L319.0,173.80 L320.0,173.30 L321.0,172.80 L322.0,172.30 L323.0,171.80 L324.0,171.31 L325.0,170.81 L326.0,170.31 L327.0,169.81 L328.0,169.31 L329.0,168.81 L330.0,168.32 L331.0,167.82 L332.0,167.32 L333.0,166.82 L334.0,166.32 L335.0,165.83 L336.0,165.33 L337.0,164.83 L338.0,164.33 L339.0,163.84 L340.0,163.34 L341.0,162.84 L342.0,162.34 L343.0,161.84 L344.0,161.35 L345.0,160.85 L346.0,160.35 L347.0,159.85 L348.0,159.35 L349.0,158.86 L350.0,158.36 L351.0,157.86 L352.0,157.36 L353.0,156.87 L354.0,156.37 L355.0,155.87 L356.0,155.37 L357.0,154.88 L358.0,154.38 L359.0,153.88 L360.0,153.38 L361.0,152.89 L362.0,152.39 L363.0,151.89 L364.0,151.40 L365.0,150.90 L366.0,150.40 L367.0,149.91 L368.0,149.41 L369.0,148.92 L370.0,148.42 L371.0,147.92 L372.0,147.43 L373.0,146.93 L374.0,146.44 L375.0,145.94 L376.0,145.45 L377.0,144.95 L378.0,144.46 L379.0,143.96 L380.0,143.47 L381.0,142.97 L382.0,142.48 L383.0,141.99 L384.0,141.49 L385.0,141.00 L386.0,140.50 L387.0,140.01 L388.0,139.52 L389.0,139.03 L390.0,138.53 L391.0,138.04 L392.0,137.55 L393.0,137.06 L394.0,136.56 L395.0,136.07 L396.0,135.58 L397.0,135.09 L398.0,134.60 L399.0,134.11 L400.0,133.62 L401.0,133.13 L402.0,132.64 L403.0,132.15 L404.0,131.66 L405.0,131.17 L406.0,130.68 L407.0,130.19 L408.0,129.71 L409.0,129.22 L410.0,128.73 L411.0,128.24 L412.0,127.76 L413.0,127.27 L414.0,126.79 L415.0,126.30 L416.0,125.82 L417.0,125.34 L418.0,124.86 L419.0,124.38 L420.0,123.90 L421.0,123.42 L422.0,122.94 L423.0,122.46 L424.0,121.98 L425.0,121.50 L426.0,121.02 L427.0,120.55 L428.0,120.07 L429.0,119.60 L430.0,119.12 L431.0,118.65 L432.0,118.18 L433.0,117.70 L434.0,117.23 L435.0,116.76 L436.0,116.29 L437.0,115.82 L438.0,115.35 L439.0,114.89 L440.0,114.42 L441.0,113.95 L442.0,113.49 L443.0,113.02 L444.0,112.56 L445.0,112.10 L446.0,111.64 L447.0,111.18 L448.0,110.72 L449.0,110.26 L450.0,109.81 L451.0,109.35 L452.0,108.90 L453.0,108.45 L454.0,107.99 L455.0,107.54 L456.0,107.10 L457.0,106.65 L458.0,106.20 L459.0,105.76 L460.0,105.31 L461.0,104.87 L462.0,104.43 L463.0,103.99 L464.0,103.56 L465.0,103.12 L466.0,102.69 L467.0,102.25 L468.0,101.82 L469.0,101.40 L470.0,100.97 L471.0,100.54 L472.0,100.12 L473.0,99.70 L474.0,99.28 L475.0,98.86 L476.0,98.45 L477.0,98.04 L478.0,97.63 L479.0,97.22 L480.0,96.81 L481.0,96.41 L482.0,96.01 L483.0,95.61 L484.0,95.21 L485.0,94.82 L486.0,94.43 L487.0,94.04 L488.0,93.66 L489.0,93.27 L490.0,92.89 L491.0,92.52 L492.0,92.14 L493.0,91.77 L494.0,91.41 L495.0,91.04 L496.0,90.68 L497.0,90.32 L498.0,89.97 L499.0,89.62 L500.0,89.27 L501.0,88.92 L502.0,88.58 L503.0,88.25 L504.0,87.91 L505.0,87.59 L506.0,87.26 L507.0,86.94 L508.0,86.62 L509.0,86.31 L510.0,86.00 L511.0,85.69 L512.0,85.39 L513.0,85.10 L514.0,84.81 L515.0,84.52 L516.0,84.24 L517.0,83.96 L518.0,83.69 L519.0,83.42 L520.0,83.15 L521.0,82.89 L522.0,82.64 L523.0,82.39 L524.0,82.15 L525.0,81.91 L526.0,81.67 L527.0,81.44 L528.0,81.22 L529.0,81.00 L530.0,80.79 L531.0,80.58 L532.0,80.38 L533.0,80.18 L534.0,79.99 L535.0,79.81 L536.0,79.63 L537.0,79.45 L538.0,79.28 L539.0,79.12 L540.0,78.96 L541.0,78.80 L542.0,78.66 L543.0,78.51 L544.0,78.37 L545.0,78.24 L546.0,78.12 L547.0,78.00 L548.0,77.88 L549.0,77.77 L550.0,77.66 L551.0,77.56 L552.0,77.46 L553.0,77.37 L554.0,77.28 L555.0,77.20 L556.0,77.12 L557.0,77.05 L558.0,76.98 L559.0,76.92 L560.0,76.85 L561.0,76.80 L562.0,76.74 L563.0,76.69 L564.0,76.65 L565.0,76.60 L566.0,76.56 L567.0,76.53 L568.0,76.49 L569.0,76.46 L570.0,76.43 L571.0,76.41 L572.0,76.38 L573.0,76.36 L574.0,76.34 L575.0,76.33 L576.0,76.31 L577.0,76.30 L578.0,76.28 L579.0,76.27 L580.0,76.26 L581.0,76.25 L582.0,76.25 L583.0,76.24 L584.0,76.23 L585.0,76.23 L586.0,76.22 L587.0,76.22 L588.0,76.22 L589.0,76.21 L590.0,76.21 L591.0,76.21 L592.0,76.21 L593.0,76.21 L594.0,76.20 L595.0,76.21 L596.0,76.21 L597.0,76.22 L598.0,76.22 L599.0,76.23 L600.0,76.24 L601.0,76.25 L602.0,76.26 L603.0,76.27 L604.0,76.28 L605.0,76.29 L606.0,76.30 L607.0,76.31 L608.0,76.31 L609.0,76.32 L610.0,76.33 L611.0,76.33 L612.0,76.34 L613.0,76.34 L614.0,76.35 L615.0,76.36 L616.0,76.37 L617.0,76.38 L618.0,76.40 L619.0,76.43 L620.0,76.49 L621.0,76.57 L622.0,76.66 L623.0,76.77 L624.0,76.89 L625.0,77.00 L626.0,77.13 L627.0,77.28 L628.0,77.44 L629.0,77.62 L630.0,77.80 L631.0,77.99 L632.0,78.21 L633.0,78.44 L634.0,78.68 L635.0,78.92 L636.0,79.17 L637.0,79.40 L638.0,79.62 L639.0,79.82 L640.0,80.00 L641.0,80.16 L642.0,80.32 L643.0,80.46 L644.0,80.61 L645.0,80.74 L646.0,80.87 L647.0,80.99 L648.0,81.10 L649.0,81.20 L650.0,81.30 L651.0,81.39 L652.0,81.48 L653.0,81.57 L654.0,81.65 L655.0,81.73 L656.0,81.80 L657.0,81.88 L658.0,81.94 L659.0,82.01 L660.0,82.06 L661.0,82.12 L662.0,82.16 L663.0,82.20 L664.0,82.24 L665.0,82.27 L666.0,82.31 L667.0,82.34 L668.0,82.37 L669.0,82.40 L670.0,82.43 L671.0,82.46 L672.0,82.49 L673.0,82.51 L674.0,82.53 L675.0,82.55 L676.0,82.57 L677.0,82.58 L678.0,82.59 L679.0,82.60 L680.0,82.60 L681.0,82.60 L682.0,82.60 L683.0,82.60 L684.0,82.60 L685.0,82.60 L686.0,82.60 L687.0,82.60 L688.0,82.60 L689.0,82.60 L690.0,82.60 L691.0,82.60 L692.0,82.60 L693.0,82.60 L694.0,82.60 L695.0,82.60 L696.0,82.60 L697.0,82.60 L698.0,82.60 L699.0,82.60 L700.0,82.60 L701.0,82.60 L702.0,82.60 L703.0,82.60 L704.0,82.60 L705.0,82.60 L706.0,82.60 L707.0,82.60 L708.0,82.60 L709.0,82.60 L710.0,82.60 L711.0,82.60 L712.0,82.60 L713.0,82.60 L714.0,82.60 L715.0,82.60 L716.0,82.60 L717.0,82.60 L718.0,82.60 L719.0,82.60 L720.0,82.60 L721.0,82.60 L722.0,82.60 L723.0,82.60 L724.0,82.60 L725.0,82.60 L726.0,82.60 L727.0,82.60 L728.0,82.59 L729.0,82.59 L730.0,82.59 L731.0,82.58 L732.0,82.58 L733.0,82.57 L734.0,82.57 L735.0,82.56 L736.0,82.56 L737.0,82.55 L738.0,82.54 L739.0,82.53 L740.0,82.52 L741.0,82.51 L742.0,82.50 L743.0,82.49 L744.0,82.48 L745.0,82.47 L746.0,82.46 L747.0,82.45 L748.0,82.43 L749.0,82.42 L750.0,82.41 L751.0,82.39 L752.0,82.38 L753.0,82.36 L754.0,82.35 L755.0,82.33 L756.0,82.32 L757.0,82.30 L758.0,82.29 L759.0,82.27 L760.0,82.25 L761.0,82.24 L762.0,82.22 L763.0,82.20 L764.0,82.18 L765.0,82.16 L766.0,82.14 L767.0,82.13 L768.0,82.11 L769.0,82.09 L770.0,82.07 L771.0,82.05 L772.0,82.03 L773.0,82.01 L774.0,81.99 L775.0,81.97 L776.0,81.95 L777.0,81.93 L778.0,81.91 L779.0,81.88 L780.0,81.86 L781.0,81.84 L782.0,81.82 L783.0,81.80" stroke="#000000"/>
</g>
<path d="M174.55,76.0 v15.6 M174.55,692.56 v-15.6 M190.01,76.0 v15.6 M190.01,692.56 v-15.6 M200.97,76.0 v15.6 M200.97,692.56 v-15.6 M209.48,76.0 v15.6 M209.48,692.56 v-15.6 M216.43,76.0 v15.6 M216.43,692.56 v-15.6 M222.30,76.0 v15.6 M222.30,692.56 v-15.6 M227.39,76.0 v15.6 M227.39,692.56 v-15.6 M231.88,76.0 v15.6 M231.88,692.56 v-15.6 M262.32,76.0 v15.6 M262.32,692.56 v-15.6 M277.78,76.0 v15.6 M277.78,692.56 v-15.6 M288.74,76.0 v15.6 M288.74,692.56 v-15.6 M297.25,76.0 v15.6 M297.25,692.56 v-15.6 M304.20,76.0 v15.6 M304.20,692.56 v-15.6 M310.07,76.0 v15.6 M310.07,692.56 v-15.6 M315.16,76.0 v15.6 M315.16,692.56 v-15.6 M319.65,76.0 v15.6 M319.65,692.56 v-15.6 M350.09,76.0 v15.6 M350.09,692.56 v-15.6 M365.55,76.0 v15.6 M365.55,692.56 v-15.6 M376.51,76.0 v15.6 M376.51,692.56 v-15.6 M385.02,76.0 v15.6 M385.02,692.56 v-15.6 M391.97,76.0 v15.6 M391.97,692.56 v-15.6 M397.84,76.0 v15.6 M397.84,692.56 v-15.6 M402.93,76.0 v15.6 M402.93,692.56 v-15.6 M407.42,76.0 v15.6 M407.42,692.56 v-15.6 M437.86,76.0 v15.6 M437.86,692.56 v-15.6 M453.32,76.0 v15.6 M453.32,692.56 v-15.6 M464.28,76.0 v15.6 M464.28,692.56 v-15.6 M472.79,76.0 v15.6 M472.79,692.56 v-15.6 M479.74,76.0 v15.6 M479.74,692.56 v-15.6 M485.61,76.0 v15.6 M485.61,692.56 v-15.6 M490.70,76.0 v15.6 M490.70,692.56 v-15.6 M495.19,76.0 v15.6 M495.19,692.56 v-15.6 M525.63,76.0 v15.6 M525.63,692.56 v-15.6 M541.09,76.0 v15.6 M541.09,692.56 v-15.6 M552.05,76.0 v15.6 M552.05,692.56 v-15.6 M560.56,76.0 v15.6 M560.56,692.56 v-15.6 M567.51,76.0 v15.6 M567.51,692.56 v-15.6 M573.38,76.0 v15.6 M573.38,692.56 v-15.6 M578.47,76.0 v15.6 M578.47,692.56 v-15.6 M582.96,76.0 v15.6 M582.96,692.56 v-15.6 M613.40,76.0 v15.6 M613.40,692.56 v-15.6 M628.86,76.0 v15.6 M628.86,692.56 v-15.6 M639.82,76.0 v15.6 M639.82,692.56 v-15.6 M648.33,76.0 v15.6 M648.33,692.56 v-15.6 M655.28,76.0 v15.6 M655.28,692.56 v-15.6 M661.15,76.0 v15.6 M661.15,692.56 v-15.6 M666.24,76.0 v15.6 M666.24,692.56 v-15.6 M670.73,76.0 v15.6 M670.73,692.56 v-15.6 M701.17,76.0 v15.6 M701.17,692.56 v-15.6 M716.63,76.0 v15.6 M716.63,692.56 v-15.6 M727.59,76.0 v15.6 M727.59,692.56 v-15.6 M736.10,76.0 v15.6 M736.10,692.56 v-15.6 M743.05,76.0 v15.6 M743.05,692.56 v-15.6 M748.92,76.0 v15.6 M748.92,692.56 v-15.6 M754.01,76.0 v15.6 M754.01,692.56 v-15.6 M758.50,76.0 v15.6 M758.50,692.56 v-15.6 M166.1,116.55 h15.6 M782.2,116.55 h-15.6 M166.1,104.11 h15.6 M782.2,104.11 h-15.6 M166.1,96.63 h15.6 M782.2,96.63 h-15.6 M166.1,91.27 h15.6 M782.2,91.27 h-15.6 M166.1,87.09 h15.6 M782.2,87.09 h-15.6 M166.1,83.66 h15.6 M782.2,83.66 h-15.6 M166.1,80.75 h15.6 M782.2,80.75 h-15.6 M166.1,78.23 h15.6 M782.2,78.23 h-15.6 M166.1,204.63 h15.6 M782.2,204.63 h-15.6 M166.1,192.19 h15.6 M782.2,192.19 h-15.6 M166.1,184.71 h15.6 M782.2,184.71 h-15.6 M166.1,179.35 h15.6 M782.2,179.35 h-15.6 M166.1,175.17 h15.6 M782.2,175.17 h-15.6 M166.1,171.74 h15.6 M782.2,171.74 h-15.6 M166.1,168.83 h15.6 M782.2,168.83 h-15.6 M166.1,166.31 h15.6 M782.2,166.31 h-15.6 M166.1,292.71 h15.6 M782.2,292.71 h-15.6 M166.1,280.27 h15.6 M782.2,280.27 h-15.6 M166.1,272.79 h15.6 M782.2,272.79 h-15.6 M166.1,267.43 h15.6 M782.2,267.43 h-15.6 M166.1,263.25 h15.6 M782.2,263.25 h-15.6 M166.1,259.82 h15.6 M782.2,259.82 h-15.6 M166.1,256.91 h15.6 M782.2,256.91 h-15.6 M166.1,254.39 h15.6 M782.2,254.39 h-15.6 M166.1,380.79 h15.6 M782.2,380.79 h-15.6 M166.1,368.35 h15.6 M782.2,368.35 h-15.6 M166.1,360.87 h15.6 M782.2,360.87 h-15.6 M166.1,355.51 h15.6 M782.2,355.51 h-15.6 M166.1,351.33 h15.6 M782.2,351.33 h-15.6 M166.1,347.90 h15.6 M782.2,347.90 h-15.6 M166.1,344.99 h15.6 M782.2,344.99 h-15.6 M166.1,342.47 h15.6 M782.2,342.47 h-15.6 M166.1,468.87 h15.6 M782.2,468.87 h-15.6 M166.1,456.43 h15.6 M782.2,456.43 h-15.6 M166.1,448.95 h15.6 M782.2,448.95 h-15.6 M166.1,443.59 h15.6 M782.2,443.59 h-15.6 M166.1,439.41 h15.6 M782.2,439.41 h-15.6 M166.1,435.98 h15.6 M782.2,435.98 h-15.6 M166.1,433.07 h15.6 M782.2,433.07 h-15.6 M166.1,430.55 h15.6 M782.2,430.55 h-15.6 M166.1,556.95 h15.6 M782.2,556.95 h-15.6 M166.1,544.51 h15.6 M782.2,544.51 h-15.6 M166.1,537.03 h15.6 M782.2,537.03 h-15.6 M166.1,531.67 h15.6 M782.2,531.67 h-15.6 M166.1,527.49 h15.6 M782.2,527.49 h-15.6 M166.1,524.06 h15.6 M782.2,524.06 h-15.6 M166.1,521.15 h15.6 M782.2,521.15 h-15.6 M166.1,518.63 h15.6 M782.2,518.63 h-15.6 M166.1,645.03 h15.6 M782.2,645.03 h-15.6 M166.1,632.59 h15.6 M782.2,632.59 h-15.6 M166.1,625.11 h15.6 M782.2,625.11 h-15.6 M166.1,619.75 h15.6 M782.2,619.75 h-15.6 M166.1,615.57 h15.6 M782.2,615.57 h-15.6 M166.1,612.14 h15.6 M782.2,612.14 h-15.6 M166.1,609.23 h15.6 M782.2,609.23 h-15.6 M166.1,606.71 h15.6 M782.2,606.71 h-15.6" stroke="#000" stroke-width="1.8" fill="none"/>
<path d="M235.90,76.0 v31.3 M235.90,692.56 v-31.3 M323.67,76.0 v31.3 M323.67,692.56 v-31.3 M411.44,76.0 v31.3 M411.44,692.56 v-31.3 M499.21,76.0 v31.3 M499.21,692.56 v-31.3 M586.98,76.0 v31.3 M586.98,692.56 v-31.3 M674.75,76.0 v31.3 M674.75,692.56 v-31.3 M762.52,76.0 v31.3 M762.52,692.56 v-31.3 M166.1,164.08 h31.3 M782.2,164.08 h-31.3 M166.1,252.16 h31.3 M782.2,252.16 h-31.3 M166.1,340.24 h31.3 M782.2,340.24 h-31.3 M166.1,428.32 h31.3 M782.2,428.32 h-31.3 M166.1,516.40 h31.3 M782.2,516.40 h-31.3 M166.1,604.48 h31.3 M782.2,604.48 h-31.3" stroke="#000" stroke-width="1.9" fill="none"/>
<rect x="166.1" y="76.0" width="616.1" height="616.56" fill="none" stroke="#000" stroke-width="1.9"/>
<g font-family="'Liberation Sans', sans-serif" font-size="29.4px" fill="#000" stroke="#000" stroke-width="0.4" stroke-linejoin="round" opacity="0.999" text-rendering="geometricPrecision">
<path transform="translate(209.35,736.40) scale(0.02940,-0.02940)" d="M255 14V492H112V560C175 566 232 618 258 700H337V14Z" vector-effect="non-scaling-stroke"/><text transform="translate(225.70,736.40) scale(1,1.0)">0</text><text transform="translate(242.25,721.70) scale(1,1.0)" font-size="23.4px">-9</text>
<path transform="translate(297.12,736.40) scale(0.02940,-0.02940)" d="M255 14V492H112V560C175 566 232 618 258 700H337V14Z" vector-effect="non-scaling-stroke"/><text transform="translate(313.47,736.40) scale(1,1.0)">0</text><text transform="translate(330.02,721.70) scale(1,1.0)" font-size="23.4px">-8</text>
<path transform="translate(384.89,736.40) scale(0.02940,-0.02940)" d="M255 14V492H112V560C175 566 232 618 258 700H337V14Z" vector-effect="non-scaling-stroke"/><text transform="translate(401.24,736.40) scale(1,1.0)">0</text><text transform="translate(417.79,721.70) scale(1,1.0)" font-size="23.4px">-7</text>
<path transform="translate(472.66,736.40) scale(0.02940,-0.02940)" d="M255 14V492H112V560C175 566 232 618 258 700H337V14Z" vector-effect="non-scaling-stroke"/><text transform="translate(489.01,736.40) scale(1,1.0)">0</text><text transform="translate(505.56,721.70) scale(1,1.0)" font-size="23.4px">-6</text>
<path transform="translate(560.43,736.40) scale(0.02940,-0.02940)" d="M255 14V492H112V560C175 566 232 618 258 700H337V14Z" vector-effect="non-scaling-stroke"/><text transform="translate(576.78,736.40) scale(1,1.0)">0</text><text transform="translate(593.33,721.70) scale(1,1.0)" font-size="23.4px">-5</text>
<path transform="translate(648.20,736.40) scale(0.02940,-0.02940)" d="M255 14V492H112V560C175 566 232 618 258 700H337V14Z" vector-effect="non-scaling-stroke"/><text transform="translate(664.55,736.40) scale(1,1.0)">0</text><text transform="translate(681.10,721.70) scale(1,1.0)" font-size="23.4px">-4</text>
<path transform="translate(735.97,736.40) scale(0.02940,-0.02940)" d="M255 14V492H112V560C175 566 232 618 258 700H337V14Z" vector-effect="non-scaling-stroke"/><text transform="translate(752.32,736.40) scale(1,1.0)">0</text><text transform="translate(768.87,721.70) scale(1,1.0)" font-size="23.4px">-3</text>
<path transform="translate(103.70,91.00) scale(0.02940,-0.02940)" d="M255 14V492H112V560C175 566 232 618 258 700H337V14Z" vector-effect="non-scaling-stroke"/><text transform="translate(120.04,91.00) scale(1,1.0)">0</text><text transform="translate(136.59,76.30) scale(1,1.0)" font-size="23.4px">0</text>
<path transform="translate(95.90,179.08) scale(0.02940,-0.02940)" d="M255 14V492H112V560C175 566 232 618 258 700H337V14Z" vector-effect="non-scaling-stroke"/><text transform="translate(112.25,179.08) scale(1,1.0)">0</text><text transform="translate(128.80,164.38) scale(1,1.0)" font-size="23.4px">-2</text>
<path transform="translate(95.90,267.16) scale(0.02940,-0.02940)" d="M255 14V492H112V560C175 566 232 618 258 700H337V14Z" vector-effect="non-scaling-stroke"/><text transform="translate(112.25,267.16) scale(1,1.0)">0</text><text transform="translate(128.80,252.46) scale(1,1.0)" font-size="23.4px">-4</text>
<path transform="translate(95.90,355.24) scale(0.02940,-0.02940)" d="M255 14V492H112V560C175 566 232 618 258 700H337V14Z" vector-effect="non-scaling-stroke"/><text transform="translate(112.25,355.24) scale(1,1.0)">0</text><text transform="translate(128.80,340.54) scale(1,1.0)" font-size="23.4px">-6</text>
<path transform="translate(95.90,443.32) scale(0.02940,-0.02940)" d="M255 14V492H112V560C175 566 232 618 258 700H337V14Z" vector-effect="non-scaling-stroke"/><text transform="translate(112.25,443.32) scale(1,1.0)">0</text><text transform="translate(128.80,428.62) scale(1,1.0)" font-size="23.4px">-8</text>
<path transform="translate(82.89,531.40) scale(0.02940,-0.02940)" d="M255 14V492H112V560C175 566 232 618 258 700H337V14Z" vector-effect="non-scaling-stroke"/><text transform="translate(99.24,531.40) scale(1,1.0)">0</text><text transform="translate(115.79,516.70) scale(1,1.0)" font-size="23.4px">-</text><path transform="translate(123.58,516.70) scale(0.02340,-0.02340)" d="M255 14V492H112V560C175 566 232 618 258 700H337V14Z" vector-effect="non-scaling-stroke"/><text transform="translate(136.59,516.70) scale(1,1.0)" font-size="23.4px">0</text>
<path transform="translate(82.89,619.48) scale(0.02940,-0.02940)" d="M255 14V492H112V560C175 566 232 618 258 700H337V14Z" vector-effect="non-scaling-stroke"/><text transform="translate(99.24,619.48) scale(1,1.0)">0</text><text transform="translate(115.79,604.78) scale(1,1.0)" font-size="23.4px">-</text><path transform="translate(123.58,604.78) scale(0.02340,-0.02340)" d="M255 14V492H112V560C175 566 232 618 258 700H337V14Z" vector-effect="non-scaling-stroke"/><text transform="translate(136.59,604.78) scale(1,1.0)" font-size="23.4px">2</text>
<path transform="translate(82.89,707.56) scale(0.02940,-0.02940)" d="M255 14V492H112V560C175 566 232 618 258 700H337V14Z" vector-effect="non-scaling-stroke"/><text transform="translate(99.24,707.56) scale(1,1.0)">0</text><text transform="translate(115.79,692.86) scale(1,1.0)" font-size="23.4px">-</text><path transform="translate(123.58,692.86) scale(0.02340,-0.02340)" d="M255 14V492H112V560C175 566 232 618 258 700H337V14Z" vector-effect="non-scaling-stroke"/><text transform="translate(136.59,692.86) scale(1,1.0)" font-size="23.4px">4</text>
<text transform="translate(473.60,779.40) scale(1,0.97)" font-size="29.65px" text-anchor="middle">Time(s)</text>
<text transform="translate(69,384) rotate(-90) scale(1,1.0)" text-anchor="middle">Relative Abundance to Hydrogen Nuclei</text>
<text transform="translate(227.30,645.60) scale(1,1.0)">(d)</text>
<text transform="translate(288.80,152.40) scale(1,1.015)" fill="#000" stroke="#000">H</text><path transform="translate(310.83,160.80) scale(0.02340,-0.02340)" d="M255 14V492H112V560C175 566 232 618 258 700H337V14Z" fill="#000" stroke="#000" vector-effect="non-scaling-stroke"/>
<text transform="translate(442.80,275.20) scale(1,1.015)" fill="#ffa500" stroke="#ffa500">H</text><text transform="translate(464.33,285.40) scale(1,1.0)" font-size="23.4px" fill="#ffa500" stroke="#ffa500">+</text>
<text transform="translate(689.80,275.10) scale(1,1.015)" fill="#ff0000" stroke="#ff0000">H</text><text transform="translate(711.73,284.10) scale(1,1.0)" font-size="23.4px" fill="#ff0000" stroke="#ff0000">2</text>
<text transform="translate(689.80,368.00) scale(1,1.015)" fill="#0000ff" stroke="#0000ff">H</text><text transform="translate(711.03,376.80) scale(1,1.0)" font-size="23.4px" fill="#0000ff" stroke="#0000ff">3</text>
<text transform="translate(369.00,338.00) scale(1,1.015)" fill="#006400" stroke="#006400">e</text><text transform="translate(385.35,322.00) scale(1,1.0)" font-size="23.4px" fill="#006400" stroke="#006400">-</text>
</g>
</svg>
</body></html>
